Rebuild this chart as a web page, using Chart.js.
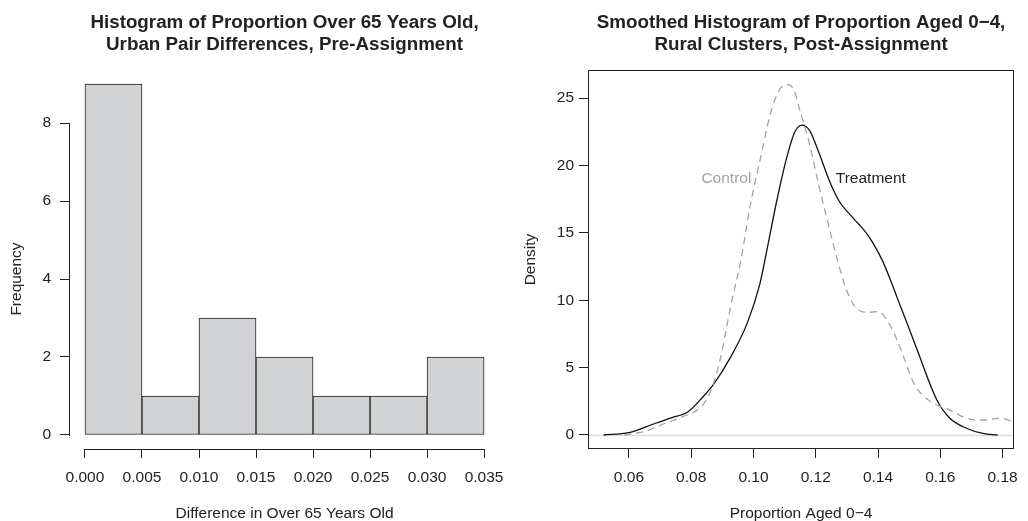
<!DOCTYPE html>
<html>
<head>
<meta charset="utf-8">
<script src="https://cdn.jsdelivr.net/npm/chart.js@4.4.0/dist/chart.umd.min.js"></script>
<style>
    html, body { margin: 0; padding: 0; background: #fff; }
    #wrap { position: relative; width: 1028px; height: 521px; }
    .panel { position: absolute; top: 0; width: 514px; height: 521px; }
</style>
</head>
<body>
<div id="wrap">
    <div class="panel" style="left:0"><canvas id="histChart" width="514" height="521"></canvas></div>
    <div class="panel" style="left:514px"><canvas id="densityChart" width="514" height="521"></canvas></div>
</div>
<script>
// Left panel: histogram of pair differences
var histBinCenters = [0.0025, 0.0075, 0.0125, 0.0175, 0.0225, 0.0275, 0.0325];
var histCounts     = [9, 1, 3, 2, 1, 1, 2];
var histXTicks     = [0, 0.005, 0.010, 0.015, 0.020, 0.025, 0.030, 0.035];
var histYTicks     = [0, 2, 4, 6, 8];

// Right panel: smoothed densities
var treatmentX = [0.0519, 0.0600, 0.0685, 0.0738, 0.0790, 0.0838, 0.0874, 0.0927, 0.0980, 0.1021,
                  0.1043, 0.1075, 0.1107, 0.1133, 0.1156, 0.1180, 0.1211, 0.1243, 0.1274, 0.1316,
                  0.1340, 0.1365, 0.1390, 0.1415, 0.1440, 0.1463, 0.1495, 0.1526, 0.1589, 0.1631,
                  0.1684, 0.1737, 0.1784];
var treatmentY = [0, 0.17, 0.87, 1.28, 1.73, 2.84, 3.83, 5.8, 8.3, 11.25,
                  13.7, 17.4, 20.6, 22.5, 23.0, 22.6, 20.9, 18.9, 17.4, 16.2,
                  15.6, 14.9, 14.0, 12.9, 11.5, 10.1, 8.2, 6.3, 2.6, 1.24,
                  0.5, 0.12, 0];
var controlX   = [0.0585, 0.0648, 0.0717, 0.0780, 0.0832, 0.0864, 0.0895, 0.0927, 0.0958, 0.0991,
                  0.1023, 0.1054, 0.1086, 0.1110, 0.1130, 0.1149, 0.1180, 0.1211, 0.1243, 0.1274,
                  0.1305, 0.1337, 0.1370, 0.1400, 0.1442, 0.1474, 0.1516, 0.1569, 0.1631, 0.1684,
                  0.1737, 0.1790, 0.1837];
var controlY   = [0, 0.25, 0.87, 1.43, 2.1, 3.34, 5.8, 9.6, 12.8, 17.2,
                  20.6, 23.8, 25.7, 26.0, 25.6, 24.1, 21.6, 18.4, 15.4, 12.6,
                  10.4, 9.27, 9.1, 9.15, 8.0, 6.3, 3.8, 2.47, 1.85, 1.24,
                  1.11, 1.24, 0.99];
var densityXTicks = [0.06, 0.08, 0.10, 0.12, 0.14, 0.16, 0.18];
var densityYTicks = [0, 5, 10, 15, 20, 25];

var INK = '#222222';
var FONT = "'Liberation Sans', Arial, Helvetica, sans-serif";

// Fix ticks to given values (R draws pretty ticks inside an extended range)
function fixedTicks(values) {
    return function (scale) {
        scale.ticks = values.map(function (v) { return { value: v }; });
    };
}

// R-like extras: axis lines spanning the ticks, box, zero line, curve labels, y title
var rStyle = {
    id: 'rStyle',
    beforeDatasetsDraw(chart, args, opts) {
        if (!opts.zeroLine) return;
        var ctx = chart.ctx, a = chart.chartArea;
        var y = Math.round(chart.scales.y.getPixelForValue(0)) + 0.5;
        ctx.save();
        ctx.strokeStyle = '#dddddd';
        ctx.lineWidth = 1.5;
        ctx.beginPath();
        ctx.moveTo(a.left, y);
        ctx.lineTo(a.right, y);
        ctx.stroke();
        ctx.restore();
    },
    afterDraw(chart, args, opts) {
        var ctx = chart.ctx, a = chart.chartArea;
        var sx = chart.scales.x, sy = chart.scales.y;
        ctx.save();
        ctx.strokeStyle = INK;
        ctx.lineWidth = 1;
        if (opts.box) {
            ctx.strokeRect(Math.round(a.left) + 0.5, Math.round(a.top) + 0.5,
                Math.round(a.right - a.left) - 1, Math.round(a.bottom - a.top) - 1);
        }
        if (opts.axisLines) {
            var xt = sx.ticks, yt = sy.ticks;
            var by = Math.round(a.bottom) + 0.5, lx = Math.round(a.left) + 0.5;
            ctx.beginPath();
            ctx.moveTo(Math.round(sx.getPixelForValue(xt[0].value)), by);
            ctx.lineTo(Math.round(sx.getPixelForValue(xt[xt.length - 1].value)) + 1, by);
            ctx.moveTo(lx, Math.round(sy.getPixelForValue(yt[0].value)) + 1);
            ctx.lineTo(lx, Math.round(sy.getPixelForValue(yt[yt.length - 1].value)));
            ctx.stroke();
        }
        ctx.font = '15.5px ' + FONT;
        ctx.textAlign = 'center';
        ctx.textBaseline = 'middle';
        (opts.labels || []).forEach(function (l) {
            ctx.fillStyle = l.color;
            ctx.fillText(l.text, sx.getPixelForValue(l.x), sy.getPixelForValue(l.y));
        });
        if (opts.yTitle) {
            ctx.fillStyle = INK;
            ctx.translate(opts.yTitle.x, opts.yTitle.y);
            ctx.rotate(-Math.PI / 2);
            ctx.fillText(opts.yTitle.text, 0, 0);
        }
        ctx.restore();
    }
};

function axisOpts(min, max, ticks, fmt, fitSize, pad) {
    return {
        type: 'linear',
        min: min,
        max: max,
        offset: false,
        afterBuildTicks: fixedTicks(ticks),
        grid: { offset: false, drawOnChartArea: false, drawTicks: true, tickLength: 9, color: INK, lineWidth: 1 },
        border: { display: false },
        ticks: {
            color: INK,
            padding: pad,
            maxRotation: 0,
            autoSkip: false,
            font: { family: FONT, size: 15.5 },
            callback: fmt
        },
        afterFit: fitSize
    };
}

function titleOpts(lines) {
    return {
        display: true,
        text: lines,
        fullSize: false,
        color: INK,
        font: { family: FONT, size: 18.8, weight: 'bold', lineHeight: 1.19 },
        padding: { top: 11.5, bottom: 13.8 }
    };
}

// Histogram
var histX = axisOpts(-0.0014, 0.0364, histXTicks,
    function (v) { return v.toFixed(3); },
    function (s) { s.height = 72; }, 10);
histX.title = { display: true, text: 'Difference in Over 65 Years Old', color: INK,
    font: { family: FONT, size: 15.5, lineHeight: 1 }, padding: { top: 0, bottom: 0 } };
var histY = axisOpts(-0.36, 9.36, histYTicks,
    function (v) { return String(v); },
    function (s) { s.width = 69; }, 9);

new Chart(document.getElementById('histChart').getContext('2d'), {
    type: 'bar',
    data: {
        datasets: [{
            data: histBinCenters.map(function (x, i) { return { x: x, y: histCounts[i] }; }),
            backgroundColor: '#d1d2d4',
            borderColor: INK,
            borderWidth: 1,
            borderSkipped: false,
            barPercentage: 1,
            categoryPercentage: 1
        }]
    },
    options: {
        responsive: false,
        animation: false,
        events: [],
        layout: { padding: { left: 0, right: 12, top: 0, bottom: 0 } },
        plugins: {
            legend: { display: false },
            tooltip: { enabled: false },
            title: titleOpts(['Histogram of Proportion Over 65 Years Old,', 'Urban Pair Differences, Pre-Assignment']),
            rStyle: { axisLines: true, yTitle: { text: 'Frequency', x: 16.3, y: 279 } }
        },
        scales: { x: histX, y: histY }
    },
    plugins: [rStyle]
});

// Densities
var densX = axisOpts(0.04685, 0.1837, densityXTicks,
    function (v) { return v.toFixed(2); },
    function (s) { s.height = 72; }, 10);
densX.title = { display: true, text: 'Proportion Aged 0\u22124', color: INK,
    font: { family: FONT, size: 15.5, lineHeight: 1 }, padding: { top: 0, bottom: 0 } };
var densY = axisOpts(-1.04, 27.08, densityYTicks,
    function (v) { return String(v); },
    function (s) { s.width = 74; }, 5);
densY.title = { display: true, text: 'Density', color: INK,
    font: { family: FONT, size: 15.5, lineHeight: 1 }, padding: { top: 8.5, bottom: 0 } };

new Chart(document.getElementById('densityChart').getContext('2d'), {
    type: 'line',
    data: {
        datasets: [{
            label: 'Control',
            data: controlX.map(function (x, i) { return { x: x, y: controlY[i] }; }),
            borderColor: '#a3a3a3',
            borderWidth: 1.3,
            borderDash: [7, 5],
            pointRadius: 0,
            cubicInterpolationMode: 'monotone',
            fill: false
        }, {
            label: 'Treatment',
            data: treatmentX.map(function (x, i) { return { x: x, y: treatmentY[i] }; }),
            borderColor: '#111111',
            borderWidth: 1.3,
            pointRadius: 0,
            cubicInterpolationMode: 'monotone',
            fill: false
        }]
    },
    options: {
        responsive: false,
        animation: false,
        events: [],
        layout: { padding: { left: 0, right: 6, top: 0, bottom: 0 } },
        plugins: {
            legend: { display: false },
            tooltip: { enabled: false },
            title: titleOpts(['Smoothed Histogram of Proportion Aged 0\u22124,', 'Rural Clusters, Post-Assignment']),
            rStyle: {
                box: true,
                zeroLine: true,
                labels: [
                    { text: 'Control', x: 0.0913, y: 19.0, color: '#a3a3a3' },
                    { text: 'Treatment', x: 0.1377, y: 19.0, color: INK }
                ]
            }
        },
        scales: { x: densX, y: densY }
    },
    plugins: [rStyle]
});
</script>
</body>
</html>
